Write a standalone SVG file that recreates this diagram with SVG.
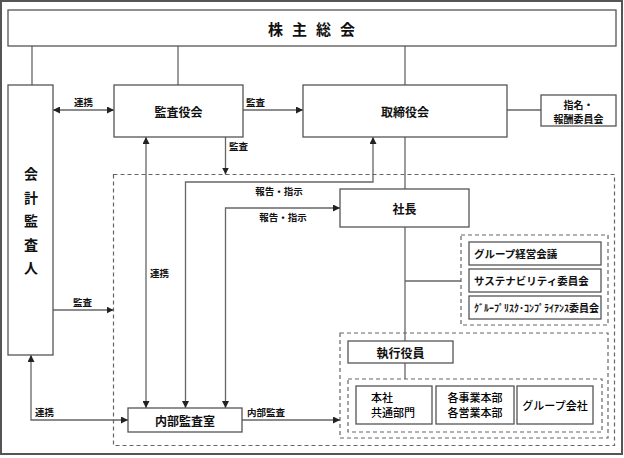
<svg xmlns="http://www.w3.org/2000/svg" width="624" height="458" viewBox="0 0 624 458">
<defs>
<marker id="ah" viewBox="0 0 10 10" refX="10" refY="5" markerWidth="7" markerHeight="7" markerUnits="userSpaceOnUse" orient="auto-start-reverse">
<path d="M0,0 L10,5 L0,10 z" fill="#222"/>
</marker>
<style>
.box{fill:#fff;stroke:#555;stroke-width:1.3}
.dash{fill:none;stroke:#666;stroke-width:1.2;stroke-dasharray:4,3}
.ln{fill:none;stroke:#666;stroke-width:1.3}
.ar{fill:none;stroke:#666;stroke-width:1.3;marker-end:url(#ah)}
.ar2{fill:none;stroke:#666;stroke-width:1.3;marker-end:url(#ah);marker-start:url(#ah)}
text{font-family:"Noto Sans CJK JP","Noto Sans",sans-serif;font-weight:700;fill:#111}
.t{font-size:12px;text-anchor:middle;dominant-baseline:central}
.s{font-size:9.5px;dominant-baseline:central}
.c{font-size:10.5px;dominant-baseline:central}
.m{font-size:11px;font-weight:500;fill:#000;dominant-baseline:central}
</style>
</defs>
<rect x="1" y="1" width="621" height="453" fill="#fff" stroke="#555" stroke-width="2"/>

<g id="frames">
<rect class="dash" x="113.5" y="174.5" width="501" height="271"/>
<rect class="dash" x="461" y="235" width="147" height="90"/>
<rect class="dash" x="340" y="333" width="268" height="105"/>
<rect class="dash" x="348" y="379" width="254" height="53"/>
</g>

<g id="connectors">
<path class="ln" d="M32,46 V85"/>
<path class="ln" d="M178,46 V85"/>
<path class="ln" d="M405,46 V85"/>
<path class="ln" d="M507,110 H541"/>
<path class="ar2" d="M53,110 H114"/>
<path class="ar" d="M243,110 H303"/>
<path class="ar" d="M225.5,137 V174.5"/>
<path class="ar2" d="M146,137 V408"/>
<path class="ar2" d="M373,137 V182 H185.5 V408"/>
<path class="ar2" d="M225.5,408 V208 H340"/>
<path class="ln" d="M405,137 V189"/>
<path class="ln" d="M405,227 V341"/>
<path class="ln" d="M405,281 H461"/>
<path class="ln" d="M405,363 V379"/>
<path class="ar" d="M53,310 H113.5"/>
<path class="ar2" d="M31,355 V420 H128"/>
<path class="ar" d="M242,420 H340"/>
</g>

<g id="labels">
<text class="s" x="74" y="102">連携</text>
<text class="s" x="246" y="102">監査</text>
<text class="s" x="229" y="146">監査</text>
<text class="s" x="279" y="191" text-anchor="middle">報告・指示</text>
<text class="s" x="283" y="217" text-anchor="middle">報告・指示</text>
<text class="s" x="150" y="273">連携</text>
<text class="s" x="73" y="302">監査</text>
<text class="s" x="35" y="412">連携</text>
<text class="s" x="247" y="412">内部監査</text>
</g>

<g id="kabunushi">
<rect class="box" x="8" y="10" width="608" height="36"/>
<text class="t" x="316" y="28" style="font-size:15px;letter-spacing:9px">株主総会</text>
</g>
<g id="kaikei">
<rect class="box" x="8" y="85" width="45" height="270"/>
<text class="t" x="31" y="173" style="font-size:14px">会</text>
<text class="t" x="31" y="197" style="font-size:14px">計</text>
<text class="t" x="31" y="220" style="font-size:14px">監</text>
<text class="t" x="31" y="244" style="font-size:14px">査</text>
<text class="t" x="31" y="267" style="font-size:14px">人</text>
</g>
<g id="kansayakukai">
<rect class="box" x="114" y="85" width="129" height="52"/>
<text class="t" x="178.5" y="111">監査役会</text>
</g>
<g id="torishimariyakukai">
<rect class="box" x="303" y="85" width="204" height="52"/>
<text class="t" x="405" y="111">取締役会</text>
</g>
<g id="shimei">
<rect class="box" x="541" y="95" width="75" height="31"/>
<text class="t" x="578.5" y="104" style="font-size:10px">指名・</text>
<text class="t" x="578.5" y="118" style="font-size:10px">報酬委員会</text>
</g>
<g id="shacho">
<rect class="box" x="340" y="189" width="129" height="38"/>
<text class="t" x="404.5" y="208">社長</text>
</g>
<g id="group-keiei">
<rect class="box" x="469" y="242" width="132" height="23"/>
<text class="c" x="474" y="253.5">グループ経営会議</text>
</g>
<g id="sustainability">
<rect class="box" x="469" y="269" width="132" height="23"/>
<text class="c" x="474" y="280.5">サステナビリティ委員会</text>
</g>
<g id="risk">
<rect class="box" x="469" y="296" width="132" height="23"/>
<text class="c" x="474" y="307.5" style="font-size:10px">ｸﾞﾙｰﾌﾟﾘｽｸ･ｺﾝﾌﾟﾗｲｱﾝｽ委員会</text>
</g>
<g id="shikkou">
<rect class="box" x="348" y="341" width="105" height="22"/>
<text class="t" x="400.5" y="352">執行役員</text>
</g>
<g id="honsha">
<rect class="box" x="356" y="386" width="76" height="38"/>
<text class="m" x="371" y="397">本社</text>
<text class="m" x="371" y="412">共通部門</text>
</g>
<g id="jigyou">
<rect class="box" x="436" y="386" width="78" height="38"/>
<text class="m" x="475" y="397" text-anchor="middle">各事業本部</text>
<text class="m" x="475" y="412" text-anchor="middle">各営業本部</text>
</g>
<g id="group-kaisha">
<rect class="box" x="517" y="386" width="76" height="38"/>
<text class="m" x="555" y="405" text-anchor="middle">グループ会社</text>
</g>
<g id="naibu">
<rect class="box" x="128" y="408" width="114" height="24"/>
<text class="t" x="185" y="420">内部監査室</text>
</g>
</svg>
